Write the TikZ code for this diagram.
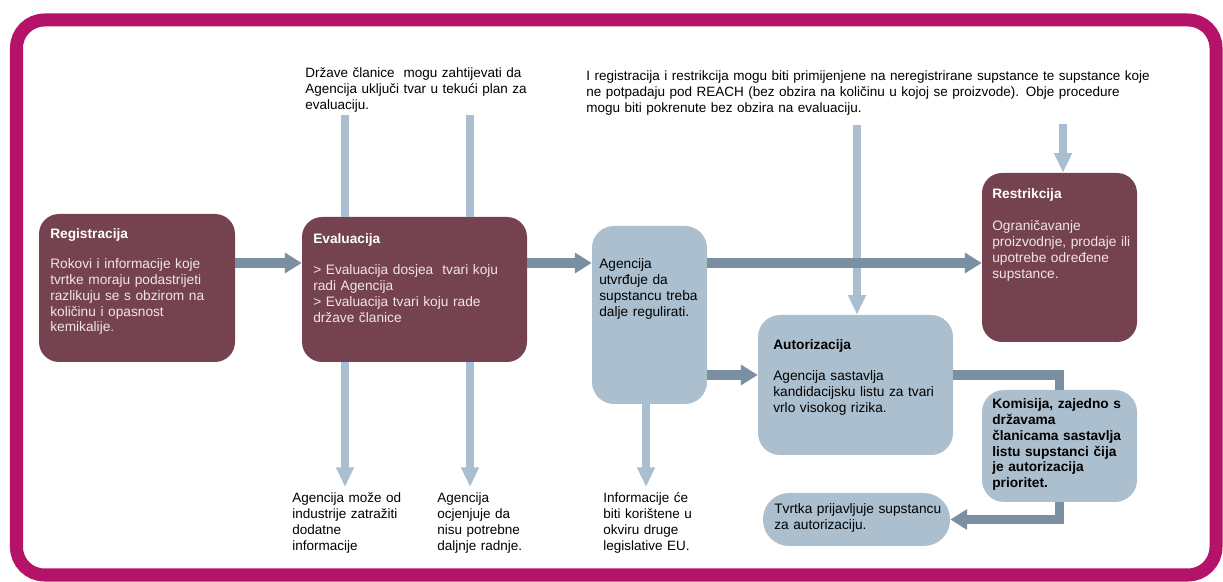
\documentclass[tikz,border=0pt]{standalone}
\usepackage{fontspec}
\setmainfont{Liberation Sans}
\usetikzlibrary{arrows.meta,fit}
\definecolor{magframe}{HTML}{B5126A}
\definecolor{maroonbox}{HTML}{74434F}
\definecolor{bluebox}{HTML}{ABBFCF}
\definecolor{darkflow}{HTML}{7B8FA3}
\definecolor{lightflow}{HTML}{A9BED0}
\definecolor{paletext}{HTML}{F2E4E8}
\begin{document}
\begin{tikzpicture}[x=0.025cm,y=-0.025cm,
    font=\fontsize{9.6}{11.2}\selectfont,
    darkbox/.style={fill=maroonbox,rounded corners=0.5cm,inner sep=0pt},
    lightbox/.style={fill=bluebox,rounded corners=0.55cm,inner sep=0pt},
    txt/.style={anchor=base west,inner sep=0pt,text width=7cm,align=left},
    boxtxt/.style={txt,font=\fontsize{9.75}{11.2}\selectfont},
    headtxt/.style={txt,font=\fontsize{9.75}{11.2}\selectfont\bfseries},
    hflow/.style={draw=darkflow,line width=6.5pt,-{Triangle[length=12pt,width=14pt]}},
    vflow/.style={draw=lightflow,line width=5.5pt,-{Triangle[length=14pt,width=12pt]}},
    vbar/.style={draw=lightflow,line width=5.5pt},
    elbow/.style={draw=darkflow,line width=7pt}]
    \useasboundingbox (0,0) rectangle (1223,582);
    \draw[magframe,line width=0.325cm,rounded corners=0.7cm] (16.5,20) rectangle (1216,575);

    % boxes
    \node[darkbox,fit={(39,214) (235,362)}] (reg) {};
    \node[darkbox,fit={(302,217) (527,362)}] (eval) {};
    \node[lightbox,fit={(592,226) (707,404)}] (agen) {};
    \node[darkbox,fit={(982,173) (1137,342)}] (restr) {};
    \node[lightbox,fit={(758,315) (953,455)}] (autor) {};
    \node[lightbox,fit={(982,390) (1137,502)}] (komis) {};
    \node[lightbox,rounded corners=0.65cm,fit={(763,493) (950,546)}] (tvrtka) {};

    % flows
    \coordinate (rowA) at (0,263);
    \coordinate (rowB) at (0,375);
    \coordinate (inE1) at (345,115);
    \coordinate (inE2) at (470,115);
    \coordinate (outE1) at (345,487);
    \coordinate (outE2) at (470,487);
    \coordinate (outA) at (646,487);
    \coordinate (inA) at (857,125);
    \coordinate (inR) at (1063,124);
    \draw[vbar] (inE1) -- (eval.north -| inE1);
    \draw[vbar] (inE2) -- (eval.north -| inE2);
    \draw[vflow] (eval.south -| outE1) -- (outE1);
    \draw[vflow] (eval.south -| outE2) -- (outE2);
    \draw[vflow] (agen.south -| outA) -- (outA);
    \draw[vflow] (inA) -- (autor.north -| inA);
    \draw[vflow] (inR) -- (restr.north -| inR);
    \draw[hflow] (reg.east |- rowA) -- (eval.west |- rowA);
    \draw[hflow] (eval.east |- rowA) -- (agen.west |- rowA);
    \draw[hflow] (agen.east |- rowA) -- (restr.west |- rowA);
    \draw[hflow] (agen.east |- rowB) -- (autor.west |- rowB);
    \draw[elbow] (autor.east |- rowB) -| (komis.north);
    \draw[elbow,-{Triangle[length=12pt,width=14pt]}] (komis.south) |- (tvrtka.east);

    % texts
    \node[txt] (noteEval) at (305,78) {Države članice \ mogu zahtijevati da\\Agencija uključi tvar u tekući plan za\\evaluaciju.};
    \node[txt,text width=16cm] (noteRR) at (586,81) {I registracija i restrikcija mogu biti primijenjene na neregistrirane supstance te supstance koje\\ne potpadaju pod REACH (bez obzira na količinu u kojoj se proizvode). Obje procedure\\mogu biti pokrenute bez obzira na evaluaciju.};
    \node[headtxt,text=white] (regT) at (50,239) {Registracija};
    \node[boxtxt,text=paletext] (regB) at (50,269) {Rokovi i informacije koje\\tvrtke moraju podastrijeti\\razlikuju se s obzirom na\\količinu i opasnost\\kemikalije.};
    \node[headtxt,text=white] (evalT) at (313,244) {Evaluacija};
    \node[boxtxt,text=paletext] (evalB) at (313,275) {> Evaluacija dosjea \ tvari koju\\radi Agencija\\> Evaluacija tvari koju rade\\države članice};
    \node[boxtxt] (agenB) at (599,269) {Agencija\\utvrđuje da\\supstancu treba\\dalje regulirati.};
    \node[headtxt,text=white] (restrT) at (992,199) {Restrikcija};
    \node[boxtxt,text=paletext] (restrB) at (992,231) {Ograničavanje\\proizvodnje, prodaje ili\\upotrebe određene\\supstance.};
    \node[headtxt] (autorT) at (773,350) {Autorizacija};
    \node[boxtxt] (autorB) at (773,381) {Agencija sastavlja\\kandidacijsku listu za tvari\\vrlo visokog rizika.};
    \node[headtxt] (komisB) at (992,409) {Komisija, zajedno s\\državama\\članicama sastavlja\\listu supstanci čija\\je autorizacija\\prioritet.};
    \node[boxtxt] (tvrtkaB) at (774,514) {Tvrtka prijavljuje supstancu\\za autorizaciju.};
    \node[txt] (outE1T) at (292,503) {Agencija može od\\industrije zatražiti\\dodatne\\informacije};
    \node[txt] (outE2T) at (437,503) {Agencija\\ocjenjuje da\\nisu potrebne\\daljnje radnje.};
    \node[txt] (outAT) at (603,503) {Informacije će\\biti korištene u\\okviru druge\\legislative EU.};
\end{tikzpicture}
\end{document}
